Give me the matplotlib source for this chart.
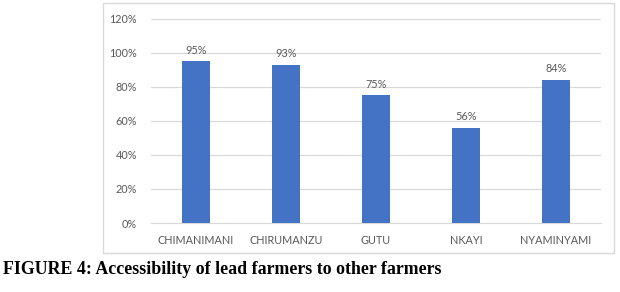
import matplotlib
matplotlib.use("Agg")
import matplotlib.pyplot as plt
from matplotlib.patches import Rectangle

categories = ["CHIMANIMANI", "CHIRUMANZU", "GUTU", "NKAYI", "NYAMINYAMI"]
values = [95, 93, 75, 56, 84]
yticks = [0, 20, 40, 60, 80, 100, 120]
caption = "FIGURE 4: Accessibility of lead farmers to other farmers"

W, H = 620, 292
fig = plt.figure(figsize=(W/100, H/100), dpi=100)
fig.patch.set_facecolor("white")

# chart frame
fig.patches.append(Rectangle((103/W, 1-253/H), 511/W, 250/H, transform=fig.transFigure,
                             fill=False, edgecolor="#D9D9D9", linewidth=1.0))

FONT = "Lato"
ax = fig.add_axes([151/W, 1-223/H, 450/W, (223-18.5)/H])
x = range(len(categories))
bars = ax.bar(x, values, width=0.32, color="#4472C4", zorder=3)
ax.set_xlim(-0.5, len(categories)-0.5)
ax.set_ylim(0, 120)
ax.set_yticks(yticks)
ax.set_yticklabels([f"{v}%" for v in yticks])
ax.set_xticks(list(x))
ax.set_xticklabels(categories)
ax.yaxis.grid(True, color="#D9D9D9", linewidth=0.9, zorder=0)
for s in ["top", "right", "left"]:
    ax.spines[s].set_visible(False)
ax.spines["bottom"].set_color("#D9D9D9")
ax.tick_params(axis="both", length=0, colors="#595959", labelsize=7.8)
ax.tick_params(axis="y", pad=10)
ax.tick_params(axis="x", pad=9)
for lab in ax.get_xticklabels() + ax.get_yticklabels():
    lab.set_fontfamily(FONT)
for b, v in zip(bars, values):
    ax.annotate(f"{v}%", (b.get_x()+b.get_width()/2, v), xytext=(0, 4),
                textcoords="offset points", ha="center", va="bottom",
                fontsize=7.8, color="#595959", family=FONT)

fig.text(3/W, 1-274.5/H, caption, fontsize=12.9, fontweight="bold",
         family="Liberation Serif", color="black", ha="left", va="baseline")

fig.savefig("out.png", dpi=100)
